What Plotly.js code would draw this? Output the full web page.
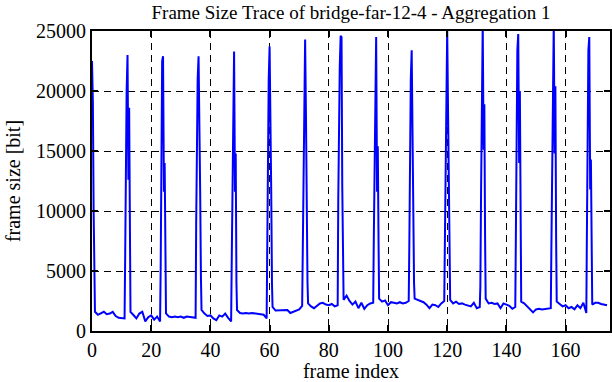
<!DOCTYPE html>
<html>
<head>
<meta charset="utf-8">
<script src="https://cdn.plot.ly/plotly-3.0.1.min.js"></script>
<style>
html,body{margin:0;padding:0;background:#fff;}
#chart{width:612px;height:382px;}
</style>
</head>
<body>
<div id="chart"></div>
<script>
// Frame sizes [bit] per frame index 0..174 (I-frame peaks every 12 frames)
const frameSize = [
  22500,1600,1350,1450,1600,1400,1450,1600,1250,1100,1050,1050,
  23000,1600,1330,1050,1450,1600,800,1150,1300,950,1200,800,
  22900,1470,1200,1150,1200,1150,1200,1100,1200,1150,1100,1100,
  22900,1750,1450,1250,1300,1050,900,1300,1200,1450,1100,800,
  23300,1750,1500,1450,1500,1450,1500,1450,1450,1400,1350,1050,
  23700,2000,1700,1700,1700,1750,1750,1500,1600,1700,1800,2100,
  24300,2300,2050,1900,2100,2300,2350,2200,2150,2250,2050,2150,
  24600,2600,2950,2500,2200,2450,1900,2350,1850,2150,2300,2350,
  24500,2700,2450,2550,2150,2400,2350,2300,2400,2300,2350,2500,
  23400,2700,2600,2500,2400,2200,1900,2200,2150,2000,2300,2500,
  25100,2600,2300,2450,2250,2300,2200,2150,2050,2350,1900,2000,
  25600,2700,2300,2350,2250,2300,1900,2300,2200,2100,1850,2000,
  24750,2450,2300,2050,1800,1550,1800,1850,1800,1850,1850,1900,
  25600,2450,2250,2050,2150,1900,2000,1800,2150,1900,2350,1500,
  24500,2200,2350,2350,2250,2200,2150
];

// I-frame positions and the sub-frame samples around each spike
const peakFrames = [0,12,24,36,48,60,72,84,96,108,120,132,144,156,168];
const spikeOffsets = [-0.8,-0.55,-0.3,0.3,0.55,0.8];
const spikeDetail = [
  [null,null,null,19000,10000,6800],
  [5900,16300,20000,12600,18600,11600],
  [5200,20400,22500,11600,14000,4400],
  [9000,16400,21000,12700,11500,4500],
  [5650,12500,20200,11600,14800,3950],
  [9500,17300,21000,18800,11600,4000],
  [7000,14500,22000,17600,8000,4100],
  [11000,18700,22000,24500,12000,4300],
  [7600,15200,22700,11600,15400,7600],
  [7000,18100,21000,14800,8000,4000],
  [7900,15700,22900,18000,11800,4000],
  [3700,11800,19500,15100,18900,7700],
  [7900,15800,23400,14000,20000,6000],
  [7000,12300,22800,14800,20400,7700],
  [8300,15800,23400,11800,14300,4200]
];

const xTicks = [0,20,40,60,80,100,120,140,160];
const yTicks = [0,5000,10000,15000,20000,25000];

// merge frame samples and spike sub-samples into one ordered series
const pts = frameSize.map((v,i)=>[i,v]);
peakFrames.forEach((p,k)=>{
  spikeOffsets.forEach((o,j)=>{
    const v = spikeDetail[k][j];
    if (v !== null) pts.push([p+o, v]);
  });
});
pts.sort((a,b)=>a[0]-b[0]);
const xs = pts.map(p=>p[0]);
const ys = pts.map(p=>p[1]);

const font = {family:'"Liberation Serif","Times New Roman",serif', size:20, color:'#000'};
const titleFont = {family:'"Liberation Serif","Times New Roman",serif', size:19, color:'#000'};

const axisCommon = {
  showline:true, linecolor:'#000', linewidth:2, mirror:'ticks',
  ticks:'inside', ticklen:6, tickwidth:2, tickcolor:'#000',
  showgrid:true, gridcolor:'#000', gridwidth:1, griddash:'7px,5px',
  zeroline:false, tickfont:font, automargin:false
};

const data = [{
  type:'scatter', mode:'lines', x:xs, y:ys,
  line:{color:'#0000ff', width:2}, hoverinfo:'none'
}];

const layout = {
  width:612, height:382,
  margin:{l:92, r:2, t:31, b:51},
  paper_bgcolor:'#fff', plot_bgcolor:'#fff',
  showlegend:false,
  font:font,
  title:{text:'Frame Size Trace of bridge-far-12-4 - Aggregation 1', font:titleFont,
         xref:'paper', x:0.5, xanchor:'center', yref:'container', y:0.968, yanchor:'middle'},
  xaxis:Object.assign({}, axisCommon, {
    range:[0,175], tickvals:xTicks, ticktext:xTicks.map(String),
    title:{text:'frame index', font:font, standoff:4}
  }),
  yaxis:Object.assign({}, axisCommon, {
    range:[0,25000], tickvals:yTicks, ticktext:yTicks.map(String),
    title:{text:'frame size [bit]', font:font, standoff:10}
  })
};

Plotly.newPlot('chart', data, layout, {displayModeBar:false, staticPlot:true});
</script>
</body>
</html>
